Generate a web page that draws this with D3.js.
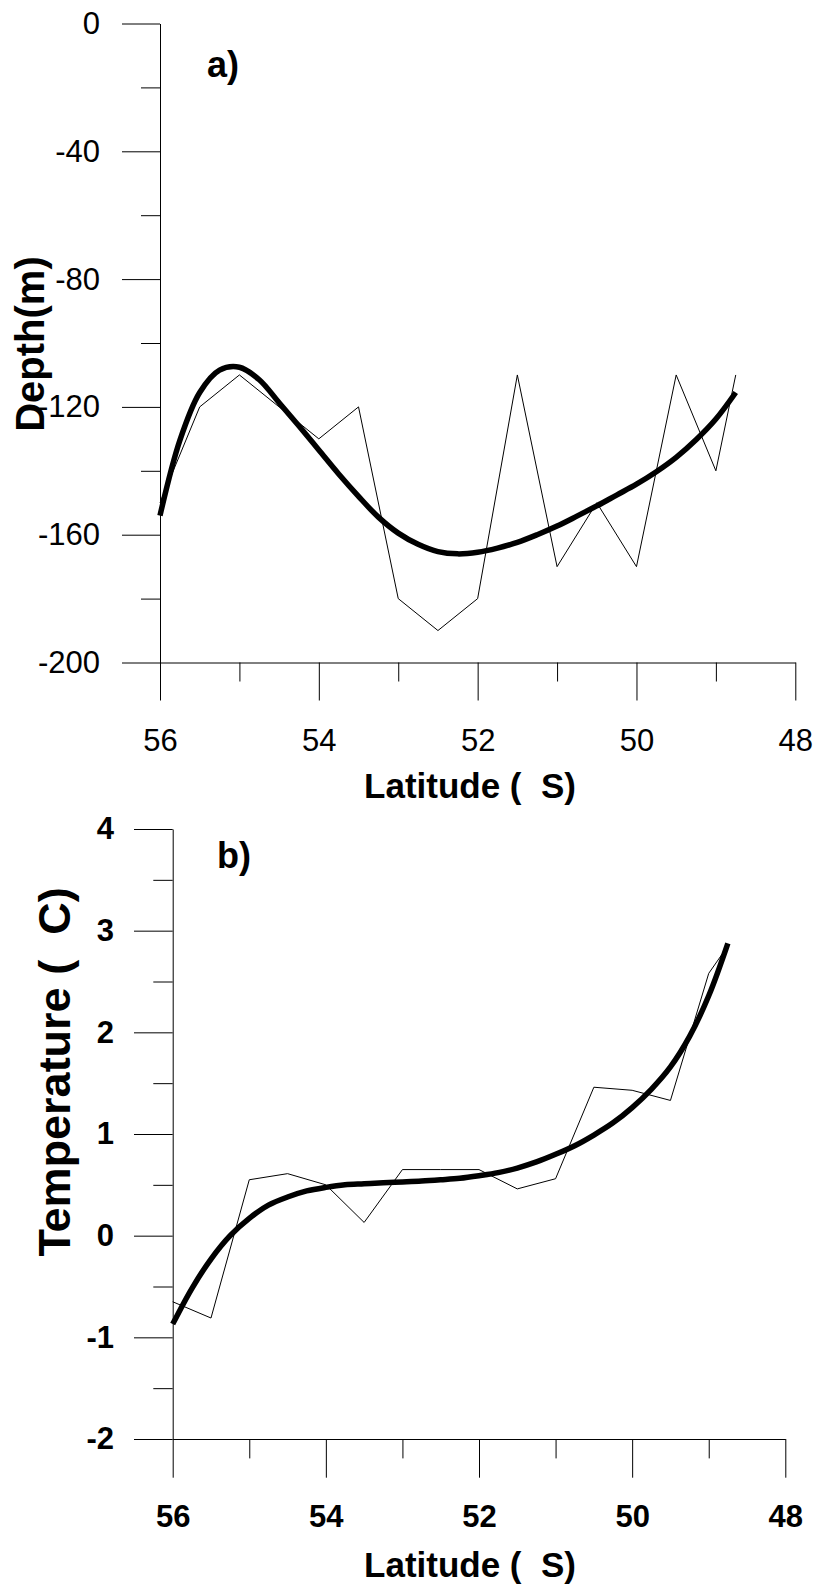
<!DOCTYPE html>
<html>
<head>
<meta charset="utf-8">
<script src="https://cdnjs.cloudflare.com/ajax/libs/d3/7.8.5/d3.min.js"></script>
<style>
  body { margin: 0; background: #fff; }
  svg { display: block; }
  text { font-family: "Liberation Sans", Arial, sans-serif; fill: #000; }
</style>
</head>
<body>
<div id="chart"></div>
<script>
// ---------- Data ----------
// Panel a: depth vs latitude
const latA = [56, 55.5, 55, 54, 53.5, 53, 52.5, 52, 51.5, 51, 50.5, 50, 49.5, 49, 48.75];
const depthA = [-150, -120, -110, -130, -120, -180, -190, -180, -110, -170, -150, -170, -110, -140, -110];
// Panel a: fitted curve
const fitLatA = [56, 55.75, 55.5, 55.25, 55, 54.75, 54.5, 54.25, 54, 53.75, 53.5, 53.25, 53, 52.75, 52.5, 52.25, 52, 51.75, 51.5, 51.25, 51, 50.75, 50.5, 50.25, 50, 49.75, 49.5, 49.25, 49, 48.75];
const fitDepthA = [-154, -130.5, -115.5, -108.5, -107.6, -111.5, -118.7, -126, -133.5, -141, -148, -154.5, -159.5, -163, -165.3, -166, -165.5, -164.2, -162.4, -160, -157.3, -154.2, -151, -147.6, -144.2, -140.3, -135.8, -130.3, -123.8, -115.5];

// Panel b: temperature vs latitude
const latB = [56, 55.5, 55, 54.5, 54, 53.5, 53, 52.5, 52, 51.5, 51, 50.5, 50, 49.5, 49, 48.75];
const tempB = [-0.65, -0.81, 0.55, 0.61, 0.50, 0.13, 0.65, 0.65, 0.65, 0.46, 0.56, 1.46, 1.43, 1.33, 2.58, 2.85];
// Panel b: fitted curve
const fitLatB = [56, 55.75, 55.5, 55.25, 55, 54.75, 54.5, 54.25, 54, 53.75, 53.5, 53.25, 53, 52.75, 52.5, 52.25, 52, 51.75, 51.5, 51.25, 51, 50.75, 50.5, 50.25, 50, 49.75, 49.5, 49.25, 49, 48.75];
const fitTempB = [-0.87, -0.52, -0.23, 0.0, 0.17, 0.3, 0.38, 0.44, 0.475, 0.5, 0.51, 0.52, 0.528, 0.537, 0.55, 0.565, 0.59, 0.62, 0.665, 0.725, 0.8, 0.885, 0.99, 1.11, 1.26, 1.44, 1.66, 1.96, 2.36, 2.876];

// Tick values
const xMajorTicks = [56, 54, 52, 50, 48];
const xMinorTicks = [55, 53, 51, 49];
const yMajorTicksA = [0, -40, -80, -120, -160, -200];
const yMinorTicksA = [-20, -60, -100, -140, -180];
const yMajorTicksB = [4, 3, 2, 1, 0, -1, -2];
const yMinorTicksB = [3.5, 2.5, 1.5, 0.5, -0.5, -1.5];

// ---------- Layout ----------
const W = 819, H = 1592;
const svg = d3.select("#chart").append("svg").attr("width", W).attr("height", H);
const fmt = d => String(d);

function panel(cfg) {
  const x = d3.scaleLinear().domain([56, 48]).range([cfg.x0, cfg.x1]);
  const y = d3.scaleLinear().domain(cfg.yDomain).range([cfg.yBottom, cfg.yTop]);
  const g = svg.append("g");
  const fontW = cfg.bold ? "bold" : "normal";

  // y axis major
  const yMaj = g.append("g").attr("transform", `translate(${cfg.x0},0)`)
    .call(d3.axisLeft(y).tickValues(cfg.yMajor).tickSize(cfg.major).tickSizeOuter(0).tickPadding(cfg.yPad).tickFormat(fmt));
  yMaj.selectAll("text").style("font-size", "31px").style("font-weight", fontW)
    .style("font-family", '"Liberation Sans", Arial, sans-serif').attr("fill", "#000");
  g.append("g").attr("transform", `translate(${cfg.x0},0)`)
    .call(d3.axisLeft(y).tickValues(cfg.yMinor).tickSize(cfg.minor).tickSizeOuter(0).tickFormat(""))
    .select(".domain").remove();

  // x axis major
  const xMaj = g.append("g").attr("transform", `translate(0,${cfg.yBottom})`)
    .call(d3.axisBottom(x).tickValues(xMajorTicks).tickSize(cfg.major).tickSizeOuter(0).tickPadding(cfg.xPad).tickFormat(fmt));
  xMaj.selectAll("text").style("font-size", "31px").style("font-weight", fontW)
    .style("font-family", '"Liberation Sans", Arial, sans-serif').attr("fill", "#000");
  g.append("g").attr("transform", `translate(0,${cfg.yBottom})`)
    .call(d3.axisBottom(x).tickValues(xMinorTicks).tickSize(cfg.minor).tickSizeOuter(0).tickFormat(""))
    .select(".domain").remove();

  g.selectAll(".domain").attr("stroke", "#000").attr("stroke-width", 1);
  g.selectAll(".tick line").attr("stroke", "#000").attr("stroke-width", 1);

  // thin data line
  g.append("path")
    .datum(cfg.lat.map((d, i) => [d, cfg.val[i]]))
    .attr("fill", "none").attr("stroke", "#000").attr("stroke-width", 1)
    .attr("d", d3.line().x(d => x(d[0])).y(d => y(d[1])));

  // thick fitted curve
  g.append("path")
    .datum(cfg.fitLat.map((d, i) => [d, cfg.fitVal[i]]))
    .attr("fill", "none").attr("stroke", "#000").attr("stroke-width", 5.5)
    .attr("d", d3.line().curve(d3.curveCatmullRom.alpha(0.5)).x(d => x(d[0])).y(d => y(d[1])));

  // panel letter
  g.append("text").attr("x", cfg.labelX).attr("y", cfg.labelY)
    .style("font-size", cfg.labelSize + "px").style("font-weight", "bold").text(cfg.label);

  // x title
  g.append("text").attr("x", cfg.xTitleX).attr("y", cfg.xTitleY).attr("text-anchor", "middle")
    .style("font-size", "35px").style("font-weight", "bold").text("Latitude ( \u00A0S)");

  // y title
  g.append("text").attr("transform", `translate(${cfg.yTitleX},${cfg.yTitleY}) rotate(-90)`)
    .attr("text-anchor", "middle")
    .style("font-size", cfg.yTitleSize + "px").style("font-weight", "bold").text(cfg.yTitle);
}

panel({
  x0: 160, x1: 795.3, yTop: 23.5, yBottom: 662.5, yDomain: [-200, 0],
  yMajor: yMajorTicksA, yMinor: yMinorTicksA, major: 38, minor: 19, yPad: 22, xPad: 28,
  bold: false,
  lat: latA, val: depthA, fitLat: fitLatA, fitVal: fitDepthA,
  label: "a)", labelX: 207, labelY: 77, labelSize: 36,
  xTitleX: 470, xTitleY: 798,
  yTitle: "Depth(m)", yTitleX: 44, yTitleY: 344, yTitleSize: 40
});

panel({
  x0: 172.7, x1: 785.3, yTop: 829, yBottom: 1439, yDomain: [-2, 4],
  yMajor: yMajorTicksB, yMinor: yMinorTicksB, major: 38.7, minor: 19.4, yPad: 20, xPad: 27,
  bold: true,
  lat: latB, val: tempB, fitLat: fitLatB, fitVal: fitTempB,
  label: "b)", labelX: 217, labelY: 868, labelSize: 36,
  xTitleX: 470, xTitleY: 1577,
  yTitle: "Temperature ( \u00A0C)", yTitleX: 70, yTitleY: 1072, yTitleSize: 45
});
</script>
</body>
</html>
